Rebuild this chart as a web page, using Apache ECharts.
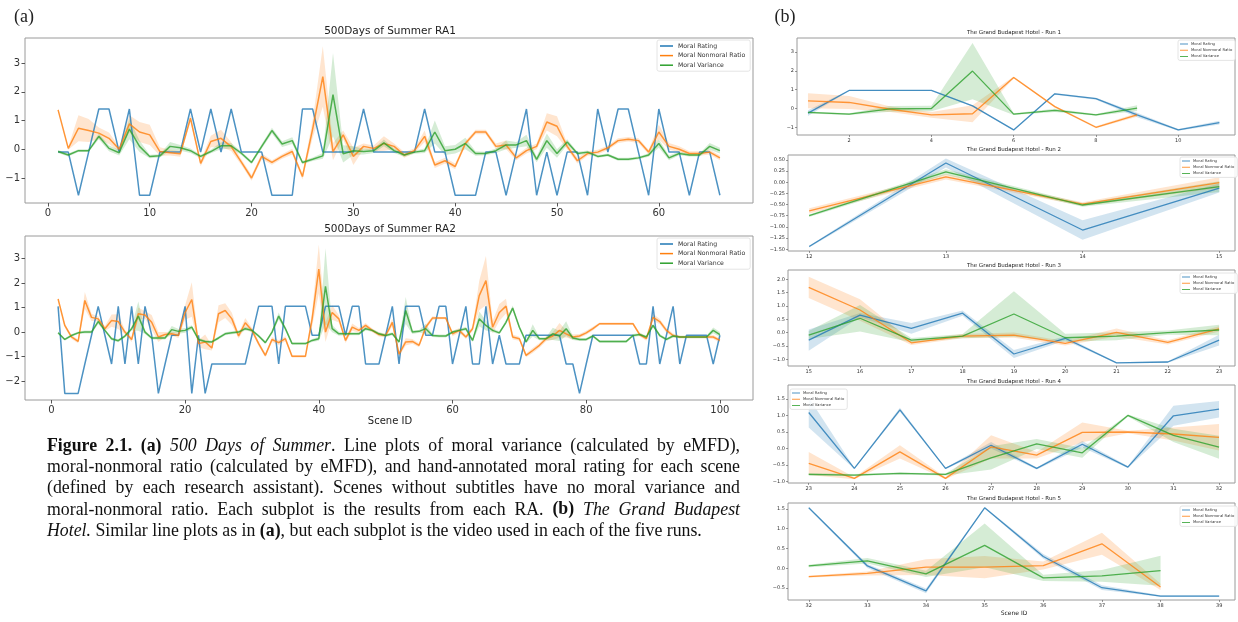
<!DOCTYPE html>
<html>
<head>
<meta charset="utf-8">
<script src="https://cdn.jsdelivr.net/npm/echarts@6/dist/echarts.min.js"></script>
<style>
  html, body { margin: 0; padding: 0; background: #fff; }
  #main { width: 1238px; height: 622px; }
</style>
</head>
<body>
<div id="main"></div>
<script>
// ---- panel (a): 500 Days of Summer ----
const ra1Scene = [1,2,3,4,5,6,7,8,9,10,11,12,13,14,15,16,17,18,19,20,21,22,23,24,25,26,27,28,29,30,31,32,33,34,35,36,37,38,39,40,41,42,43,44,45,46,47,48,49,50,51,52,53,54,55,56,57,58,59,60,61,62,63,64,65,66];
const ra1Rating = [-0.1,-0.1,-1.6,-0.1,1.4,1.4,-0.1,1.4,-1.6,-1.6, -0.1,-0.1,-0.1,1.4,-0.1,1.4,-0.1,1.4,-0.1,-0.1, -0.1,-1.6,-1.6,-1.6,1.4,1.4,-0.1,-0.1,-0.1,-0.1, 1.4,-0.1,-0.1,-0.1,-0.1,-0.1,1.4,-0.1,-0.1,-1.6, -1.6,-1.6,-0.1,-0.1,-1.6,-0.1,1.4,-1.6,-0.1,-1.6, -0.1,-0.1,-1.6,1.4,-0.1,1.4,1.4,-0.1,-1.6,1.4, -0.1,-0.1,-1.6,-0.1,-0.1,-1.6];
const ra1Ratio = [1.37,0.03,0.73,0.65,0.56,0.38,0.0,0.88,0.6,0.5, -0.08,-0.12,-0.16,1.08,-0.49,0.27,0.38,0.09,-0.45,-1.0, -0.25,-0.46,-0.25,-0.08,-0.95,0.7,2.53,-0.08,0.5,-0.25, 0.1,0.03,0.2,0.1,-0.2,-0.05,0.45,-0.55,-0.4,-0.6, 0.2,0.6,0.6,0.1,0.15,-0.3,-0.05,0.1,0.95,0.8, 0.1,-0.4,-0.15,-0.1,0.05,0.3,0.35,0.3,-0.1,0.6, 0.1,0.0,-0.15,-0.15,-0.1,-0.3];
const ra1RatioCi = [0.05,0.05,0.45,0.4,0.2,0.2,0.08,0.3,0.35,0.35, 0.15,0.1,0.1,0.12,0.1,0.2,0.3,0.15,0.1,0.1, 0.1,0.08,0.08,0.1,0.1,0.3,1.05,0.3,0.15,0.3, 0.1,0.1,0.25,0.1,0.1,0.08,0.2,0.1,0.1,0.1, 0.08,0.08,0.08,0.1,0.15,0.08,0.1,0.1,0.3,0.35, 0.1,0.1,0.08,0.08,0.08,0.08,0.08,0.08,0.08,0.25, 0.12,0.1,0.08,0.08,0.08,0.08];
const ra1Var = [-0.08,-0.2,-0.05,-0.05,0.45,0.03,-0.12,0.7,0.1,-0.25, -0.23,0.1,0.05,-0.05,-0.25,-0.08,0.12,0.12,-0.14,-0.46, 0.1,0.65,0.18,0.3,-0.46,-0.35,-0.23,1.9,-0.16,-0.05, -0.08,-0.05,0.22,-0.05,-0.2,-0.1,-0.05,0.6,-0.05,0.0, 0.2,-0.15,-0.15,-0.05,0.15,0.15,0.3,-0.35,0.3,-0.15, 0.25,-0.15,-0.1,-0.25,-0.2,-0.35,-0.35,-0.3,-0.2,0.2, -0.3,-0.15,-0.2,-0.2,0.1,-0.05];
const ra1VarCi = [0.05,0.05,0.05,0.05,0.1,0.1,0.1,0.35,0.2,0.06, 0.06,0.15,0.1,0.08,0.06,0.06,0.12,0.1,0.06,0.06, 0.08,0.1,0.1,0.12,0.06,0.06,0.1,1.45,0.3,0.15, 0.1,0.08,0.12,0.08,0.06,0.06,0.08,0.4,0.15,0.15, 0.2,0.08,0.06,0.08,0.15,0.1,0.2,0.1,0.25,0.15, 0.1,0.06,0.06,0.05,0.05,0.05,0.05,0.05,0.06,0.15, 0.08,0.06,0.05,0.05,0.12,0.1];

const ra2Scene = [1,2,3,4,5,6,7,8,9,10,11,12,13,14,15,16,17,18,19,20,21,22,23,24,25,26,27,28,29,30,31,32,33,34,35,36,37,38,39,40,41,42,43,44,45,46,47,48,49,50,51,52,53,54,55,56,57,58,59,60,61,62,63,64,65,66,67,68,69,70,71,72,73,74,75,76,77,78,79,80,81,82,83,84,85,86,87,88,89,90,91,92,93,94,95,96,97,98,99,100];
const ra2Rating = [1.05,-2.5,-2.5,-2.5,-1.3,-0.13,1.05,-0.13,-1.3,1.05, -1.3,1.05,-1.3,1.05,-0.13,-2.5,-1.3,-0.13,-0.13,1.05, -2.5,-0.13,-2.5,-1.3,-1.3,-1.3,-1.3,-1.3,-1.3,-0.13, 1.05,1.05,1.05,-1.3,1.05,1.05,1.05,1.05,-0.13,-0.13, 1.05,1.05,1.05,-0.13,1.05,1.05,-1.3,-1.3,-1.3,-0.13, 1.05,-1.3,1.05,1.05,1.05,-0.13,-0.13,1.05,1.05,-1.3, -0.13,1.05,-1.3,-1.3,1.05,-1.3,-0.13,-1.3,-1.3,-1.3, -0.13,-0.13,-0.13,-0.13,-0.13,-0.13,-1.3,-1.3,-2.5,-1.3, -0.13,-0.13,-0.13,-0.13,-0.13,-0.13,-0.13,-1.3,-1.3,1.05, -1.3,-0.13,1.05,-1.3,-0.13,-0.13,-0.13,-0.13,-1.3,-0.13];
const ra2Ratio = [1.35,0.27,-0.2,-0.38,1.29,0.6,0.54,0.14,0.47,0.43, 0.0,-0.3,0.75,0.7,0.4,-0.2,-0.1,-0.07,-0.14,0.8, 1.33,-0.47,-0.4,-0.65,0.75,0.88,0.54,-0.16,0.38,0.07, -0.47,-0.95,-0.3,-0.43,-0.27,-0.99,-0.99,-0.99,0.54,2.57, 0.0,0.8,0.54,-0.34,0.2,0.07,0.27,0.07,-0.1,-0.14, 0.4,-0.9,-0.4,-0.38,-0.54,0.2,0.57,0.57,0.57,-0.07, 0.07,-0.2,0.14,1.49,2.1,0.2,0.8,1.06,-0.2,-0.27, -0.95,-0.75,-0.54,-0.27,-0.16,0.07,-0.07,-0.2,-0.16,-0.03, 0.14,0.34,0.34,0.34,0.34,0.34,0.34,-0.1,-0.27,0.6, 0.43,0.07,-0.14,-0.2,-0.2,-0.2,-0.2,-0.2,-0.2,-0.34];
const ra2RatioCi = [0.05,0.08,0.08,0.08,0.35,0.15,0.1,0.1,0.25,0.3, 0.1,0.1,0.25,0.15,0.3,0.2,0.1,0.08,0.1,0.3, 0.7,0.15,0.3,0.1,0.35,0.3,0.25,0.1,0.2,0.1, 0.1,0.08,0.1,0.1,0.1,0.05,0.05,0.05,0.3,1.0, 0.4,0.3,0.15,0.1,0.15,0.1,0.1,0.08,0.08,0.08, 0.15,0.1,0.15,0.1,0.08,0.1,0.08,0.05,0.05,0.1, 0.1,0.08,0.1,0.6,1.0,0.25,0.35,0.3,0.1,0.08, 0.08,0.1,0.1,0.1,0.15,0.3,0.15,0.1,0.08,0.08, 0.08,0.05,0.05,0.05,0.05,0.05,0.05,0.08,0.08,0.15, 0.1,0.1,0.08,0.05,0.05,0.05,0.05,0.05,0.08,0.08];
const ra2Var = [-0.03,-0.3,-0.14,-0.03,0.0,0.0,0.43,0.07,-0.27,-0.35, -0.16,0.14,0.65,0.0,-0.24,-0.24,-0.24,0.1,0.03,0.07, 0.2,-0.3,-0.38,-0.4,-0.24,-0.07,-0.03,0.0,0.14,0.07, -0.16,-0.43,0.0,0.65,0.14,-0.47,-0.47,-0.47,-0.34,-0.27, 1.87,0.14,-0.07,-0.07,-0.07,-0.07,0.14,0.07,-0.07,-0.14, -0.07,-0.4,0.88,0.0,0.03,0.14,-0.14,-0.16,-0.16,0.0, 0.07,0.14,-0.34,0.54,0.27,0.07,-0.03,0.4,0.98,0.2, -0.4,0.07,-0.27,-0.27,-0.07,-0.16,0.14,-0.24,-0.3,-0.3, -0.16,-0.38,-0.38,-0.38,-0.38,-0.38,-0.14,-0.1,-0.2,0.27, -0.14,-0.3,-0.16,-0.2,-0.2,-0.2,-0.2,-0.2,0.07,-0.1];
const ra2VarCi = [0.05,0.05,0.05,0.05,0.06,0.06,0.1,0.06,0.06,0.06, 0.06,0.08,0.6,0.08,0.06,0.06,0.06,0.15,0.1,0.1, 0.08,0.06,0.06,0.06,0.06,0.06,0.06,0.06,0.08,0.06, 0.06,0.06,0.08,0.15,0.08,0.05,0.05,0.05,0.06,0.08, 1.55,0.15,0.08,0.06,0.06,0.06,0.08,0.06,0.06,0.06, 0.06,0.06,0.55,0.08,0.06,0.2,0.06,0.06,0.06,0.06, 0.06,0.08,0.06,0.3,0.2,0.08,0.06,0.08,0.1,0.08, 0.06,0.25,0.06,0.06,0.25,0.2,0.3,0.08,0.06,0.06, 0.06,0.05,0.05,0.05,0.05,0.05,0.06,0.06,0.06,0.08, 0.06,0.06,0.06,0.05,0.05,0.05,0.05,0.05,0.12,0.1];

// ---- panel (b): The Grand Budapest Hotel, runs 1-5 ----
const run1Scene = [1,2,3,4,5,6,7,8,9,10,11];
const run1Rating = [-0.25,0.96,0.96,0.96,0.14,-1.14,0.78,0.52,-0.34,-1.14,-0.75];
const run1RatingCi = [0.15,0.03,0.03,0.03,0.03,0.03,0.05,0.05,0.12,0.05,0.1];
const run1Ratio = [0.41,0.32,-0.04,-0.34,-0.28,1.65,0.1,-1.0,-0.34];
const run1RatioCi = [0.4,0.35,0.15,0.15,0.45,0.05,0.05,0.05,0.1];
const run1Var = [-0.21,-0.3,-0.02,0.0,1.99,-0.3,-0.1,-0.34,0.02];
const run1VarCi = [0.05,0.05,0.15,0.15,1.5,0.05,0.08,0.05,0.15];

const run2Scene = [12,13,14,15];
const run2Rating = [-1.44,0.43,-1.07,-0.13];
const run2RatingCi = [0.02,0.1,0.22,0.1];
const run2Ratio = [-0.64,0.12,-0.49,-0.01];
const run2RatioCi = [0.06,0.06,0.04,0.12];
const run2Var = [-0.75,0.23,-0.51,-0.1];
const run2VarCi = [0.03,0.06,0.04,0.12];

const run3Scene = [15,16,17,18,19,20,21,22,23];
const run3Rating = [-0.28,0.66,0.16,0.73,-0.8,-0.21,-1.13,-1.1,-0.28];
const run3RatingCi = [0.4,0.08,0.2,0.1,0.15,0.08,0.02,0.03,0.2];
const run3Ratio = [1.7,0.85,-0.38,-0.13,-0.09,-0.4,0.01,-0.36,0.14];
const run3RatioCi = [0.4,0.4,0.08,0.08,0.1,0.08,0.15,0.08,0.1];
const run3Var = [-0.09,0.54,-0.28,-0.13,0.7,-0.19,-0.13,0.0,0.1];
const run3VarCi = [0.15,0.5,0.08,0.08,0.85,0.15,0.15,0.08,0.2];

const run4Scene = [23,24,25,26,27,28,29,30,31,32];
const run4Rating = [1.09,-0.6,1.17,-0.6,0.1,-0.6,0.13,-0.56,0.99,1.19];
const run4RatingCi = [0.45,0.02,0.06,0.02,0.1,0.03,0.1,0.03,0.3,0.25];
const run4Ratio = [-0.45,-0.9,-0.1,-0.9,0.05,-0.2,0.49,0.5,0.44,0.34];
const run4RatioCi = [0.35,0.03,0.2,0.03,0.35,0.1,0.3,0.04,0.2,0.4];
const run4Var = [-0.78,-0.8,-0.75,-0.78,-0.28,0.14,-0.13,1.0,0.4,0.04];
const run4VarCi = [0.04,0.03,0.03,0.03,0.35,0.15,0.15,0.03,0.2,0.35];

const run5Scene = [32,33,34,35,36,37,38,39];
const run5Rating = [1.53,0.06,-0.57,1.53,0.3,-0.49,-0.7,-0.7];
const run5RatingCi = [0.02,0.05,0.06,0.02,0.06,0.06,0.02,0.02];
const run5Ratio = [-0.21,-0.13,0.03,0.03,0.07,0.62,-0.47];
const run5RatioCi = [0.02,0.05,0.2,0.28,0.1,0.28,0.08];
const run5Var = [0.06,0.19,-0.14,0.58,-0.24,-0.19,-0.06];
const run5VarCi = [0.03,0.07,0.08,0.55,0.08,0.15,0.38];

// tick labels
const ra1XTicks = [0,10,20,30,40,50,60];
const ra1YTicks = [-1,0,1,2,3];
const ra2XTicks = [0,20,40,60,80,100];
const ra2YTicks = [-2,-1,0,1,2,3];
const run1XTicks = [2,4,6,8,10];
const run1YTicks = [-1,0,1,2,3];
const run2YTicks = [-1.5,-1.25,-1.0,-0.75,-0.5,-0.25,0.0,0.25,0.5];
const run3YTicks = [-1.0,-0.5,0.0,0.5,1.0,1.5,2.0];
const run4YTicks = [-1.0,-0.5,0.0,0.5,1.0,1.5];
const run5YTicks = [-0.5,0.0,0.5,1.0,1.5];

const legendNames = ['Moral Rating', 'Moral Nonmoral Ratio', 'Moral Variance'];
const BLUE = '#1f77b4', ORANGE = '#ff7f0e', GREEN = '#2ca02c';
const BAND = { '#1f77b4': 'rgba(31,119,180,0.2)', '#ff7f0e': 'rgba(255,127,14,0.2)', '#2ca02c': 'rgba(44,160,44,0.2)' };

const grids = [];
const xAxes = [];
const yAxes = [];
const series = [];
const legends = [];

function minus(s) { return s.replace('-', '\u2212'); }

function addPlot(box, xr, yr, xticks, yticks, fs, fmt) {
  const gi = grids.length;
  grids.push({ left: box[0], top: box[1], width: box[2], height: box[3], show: true,
    borderColor: '#9a9a9a', borderWidth: 1, containLabel: false, outerBoundsMode: 'none' });
  const tick = { show: true, length: fs > 8 ? 3.5 : 2, lineStyle: { color: '#555', width: fs > 8 ? 1 : 0.6 } };
  xAxes.push({ type: 'value', gridIndex: gi, min: xr[0], max: xr[1], position: 'bottom',
    axisLine: { show: false, onZero: false }, splitLine: { show: false },
    axisTick: Object.assign({ customValues: xticks }, tick),
    axisLabel: { customValues: xticks, fontSize: fs, color: '#333', fontFamily: 'DejaVu Sans',
      margin: fs > 8 ? 5 : 3, formatter: v => minus(String(v)) } });
  yAxes.push({ type: 'value', gridIndex: gi, min: yr[0], max: yr[1], position: 'left',
    axisLine: { show: false, onZero: false }, splitLine: { show: false },
    axisTick: Object.assign({ customValues: yticks }, tick),
    axisLabel: { customValues: yticks, fontSize: fs, color: '#333', fontFamily: 'DejaVu Sans',
      margin: fs > 8 ? 5 : 3, formatter: v => minus(fmt(v)) } });
  return gi;
}

function addLine(gi, name, xs, ys, ci, color, lw) {
  if (ci) {
    // confidence band drawn as one polygon through the axis scales
    series.push({ type: 'custom', xAxisIndex: gi, yAxisIndex: gi, silent: true, z: 1, clip: true,
      data: ys.map((v, i) => [xs[i], v]),
      renderItem: function (params, api) {
        if (params.dataIndex !== 0) return null;
        const up = ys.map((v, i) => api.coord([xs[i], v + ci[i]]));
        const lo = ys.map((v, i) => api.coord([xs[i], v - ci[i]])).reverse();
        return { type: 'polygon', shape: { points: up.concat(lo) }, style: { fill: BAND[color] } };
      } });
  }
  series.push({ type: 'line', name: name, xAxisIndex: gi, yAxisIndex: gi,
    data: ys.map((v, i) => [xs[i], v]), symbol: 'none', silent: true,
    lineStyle: { color: color, width: lw, opacity: 0.8 }, itemStyle: { color: color }, z: 3 });
}

function addLegend(left, top, fs, small) {
  legends.push({ data: legendNames, orient: 'vertical', left: left, top: top, icon: 'rect',
    itemWidth: small ? 8 : 13, itemHeight: small ? 0.8 : 1.5, itemGap: small ? 2.2 : 3.6,
    padding: small ? [2, 3, 2, 2] : [3, 5, 3, 3], backgroundColor: 'rgba(255,255,255,0.85)',
    borderColor: '#dddddd', borderWidth: 0.8, borderRadius: 2, selectedMode: false,
    textStyle: { fontSize: fs, color: '#333', fontFamily: 'DejaVu Sans', padding: [0, 0, 0, small ? -2 : 0] } });
}

const intFmt = v => String(v);
const f1 = v => v.toFixed(1);
const f2 = v => v.toFixed(2);

// (a) RA1
let g = addPlot([25, 38, 728, 165], [-2.25, 69.25], [-1.87, 3.87], ra1XTicks, ra1YTicks, 10, intFmt);
addLine(g, legendNames[0], ra1Scene, ra1Rating, null, BLUE, 1.5);
addLine(g, legendNames[1], ra1Scene, ra1Ratio, ra1RatioCi, ORANGE, 1.5);
addLine(g, legendNames[2], ra1Scene, ra1Var, ra1VarCi, GREEN, 1.5);
addLegend(657, 40, 6.2, false);

// (a) RA2
g = addPlot([25, 236, 728, 164], [-3.95, 104.95], [-2.77, 3.92], ra2XTicks, ra2YTicks, 10, intFmt);
addLine(g, legendNames[0], ra2Scene, ra2Rating, null, BLUE, 1.5);
addLine(g, legendNames[1], ra2Scene, ra2Ratio, ra2RatioCi, ORANGE, 1.5);
addLine(g, legendNames[2], ra2Scene, ra2Var, ra2VarCi, GREEN, 1.5);
addLegend(657, 238, 6.2, false);

// (b) runs
const runs = [
  { box: [797, 38, 438, 97], xr: [0.733, 11.38], yr: [-1.41, 3.75], xt: run1XTicks, yt: run1YTicks, fmt: intFmt,
    x: run1Scene, r: run1Rating, rc: run1RatingCi, n: run1Ratio, nc: run1RatioCi, v: run1Var, vc: run1VarCi, lg: [1178, 40] },
  { box: [788, 155, 447, 96], xr: [11.845, 15.115], yr: [-1.54, 0.61], xt: run2Scene, yt: run2YTicks, fmt: f2,
    x: run2Scene, r: run2Rating, rc: run2RatingCi, n: run2Ratio, nc: run2RatioCi, v: run2Var, vc: run2VarCi, lg: [1180, 157] },
  { box: [788, 270, 447, 96], xr: [14.596, 23.31], yr: [-1.25, 2.35], xt: run3Scene, yt: run3YTicks, fmt: f1,
    x: run3Scene, r: run3Rating, rc: run3RatingCi, n: run3Ratio, nc: run3RatioCi, v: run3Var, vc: run3VarCi, lg: [1180, 273] },
  { box: [788, 385, 447, 98], xr: [22.545, 32.35], yr: [-1.04, 1.92], xt: run4Scene, yt: run4YTicks, fmt: f1,
    x: run4Scene, r: run4Rating, rc: run4RatingCi, n: run4Ratio, nc: run4RatioCi, v: run4Var, vc: run4VarCi, lg: [790, 389] },
  { box: [788, 503, 447, 97], xr: [31.646, 39.27], yr: [-0.8, 1.65], xt: run5Scene, yt: run5YTicks, fmt: f1,
    x: run5Scene, r: run5Rating, rc: run5RatingCi, n: run5Ratio, nc: run5RatioCi, v: run5Var, vc: run5VarCi, lg: [1180, 506] }
];
runs.forEach(function (p) {
  const gi = addPlot(p.box, p.xr, p.yr, p.xt, p.yt, 5, p.fmt);
  addLine(gi, legendNames[0], p.x, p.r, p.rc, BLUE, 1.3);
  addLine(gi, legendNames[1], p.x, p.n, p.nc, ORANGE, 1.3);
  addLine(gi, legendNames[2], p.x, p.v, p.vc, GREEN, 1.3);
  addLegend(p.lg[0], p.lg[1], 3.8, true);
});

// free text: panel letters, titles, axis names
const texts = [
  ['(a)', 24, 17, '18px "Liberation Serif"', 'center'],
  ['(b)', 785, 17, '18px "Liberation Serif"', 'center'],
  ['500Days of Summer RA1', 390, 31, '10.5px "DejaVu Sans"', 'center'],
  ['500Days of Summer RA2', 390, 229, '10.5px "DejaVu Sans"', 'center'],
  ['Scene ID', 390, 421, '10px "DejaVu Sans"', 'center'],
  ['The Grand Budapest Hotel - Run 1', 1014, 33, '5.5px "DejaVu Sans"', 'center'],
  ['The Grand Budapest Hotel - Run 2', 1014, 150, '5.5px "DejaVu Sans"', 'center'],
  ['The Grand Budapest Hotel - Run 3', 1014, 266, '5.5px "DejaVu Sans"', 'center'],
  ['The Grand Budapest Hotel - Run 4', 1014, 382, '5.5px "DejaVu Sans"', 'center'],
  ['The Grand Budapest Hotel - Run 5', 1014, 499, '5.5px "DejaVu Sans"', 'center'],
  ['Scene ID', 1014, 613, '6px "DejaVu Sans"', 'center']
];
const graphic = texts.map(t => ({ type: 'text', x: t[1], y: t[2], silent: true,
  style: { text: t[0], font: t[3], fill: '#222', align: t[4], verticalAlign: 'middle' } }));

// caption, justified line by line (*bold*, _italic_)
const captionLines = [
  '*Figure* *2.1.* *(a)* _500_ _Days_ _of_ _Summer_. Line plots of moral variance (calculated by eMFD),',
  'moral-nonmoral ratio (calculated by eMFD), and hand-annotated moral rating for each scene',
  '(defined by each research assistant). Scenes without subtitles have no moral variance and',
  'moral-nonmoral ratio. Each subplot is the results from each RA. *(b)* _The_ _Grand_ _Budapest_',
  '_Hotel._ Similar line plots as in *(a)*, but each subplot is the video used in each of the five runs.'
];
const capLeft = 47, capRight = 740, capTop = 446, capStep = 21.3, capSize = 17.8;
const ctx = document.createElement('canvas').getContext('2d');
function fontOf(kind) {
  const base = capSize + 'px "Liberation Serif"';
  return kind === 'b' ? 'bold ' + base : kind === 'i' ? 'italic ' + base : base;
}
captionLines.forEach(function (line, li) {
  const words = line.split(' ').map(function (w) {
    const pieces = [];
    w.replace(/\*([^*]+)\*|_([^_]+)_|([^*_]+)/g, function (m, b, i, n) {
      const kind = b ? 'b' : i ? 'i' : 'n';
      const txt = b || i || n;
      ctx.font = fontOf(kind);
      pieces.push({ kind: kind, txt: txt, w: ctx.measureText(txt).width });
      return m;
    });
    return { pieces: pieces, w: pieces.reduce((s, p) => s + p.w, 0) };
  });
  const total = words.reduce((s, w) => s + w.w, 0);
  ctx.font = fontOf('n');
  const natural = ctx.measureText(' ').width;
  const last = li === captionLines.length - 1;
  const gap = last ? natural : (capRight - capLeft - total) / (words.length - 1);
  let x = capLeft;
  const y = capTop + li * capStep;
  words.forEach(function (w) {
    w.pieces.forEach(function (p) {
      graphic.push({ type: 'text', x: x, y: y, silent: true,
        style: { text: p.txt, font: fontOf(p.kind), fill: '#111', align: 'left', verticalAlign: 'middle' } });
      x += p.w;
    });
    x += gap;
  });
});

const chart = echarts.init(document.getElementById('main'));
chart.setOption({
  animation: false,
  backgroundColor: '#fff',
  grid: grids,
  xAxis: xAxes,
  yAxis: yAxes,
  legend: legends,
  series: series,
  graphic: graphic
});
</script>
</body>
</html>
